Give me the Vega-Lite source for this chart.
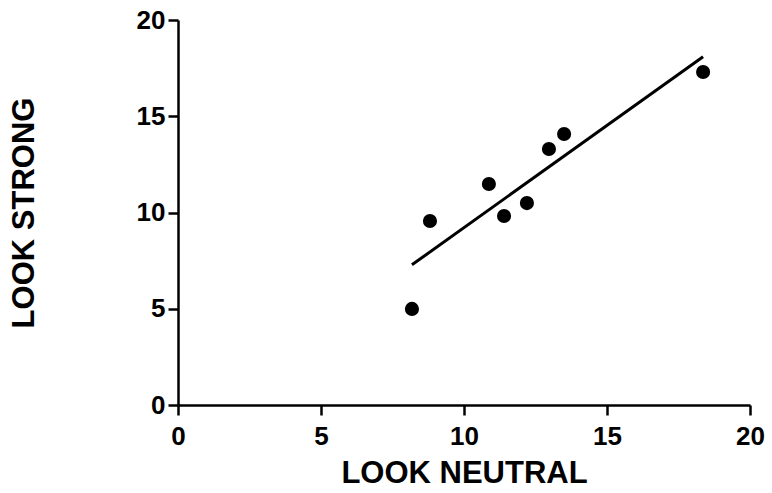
{
  "$schema": "https://vega.github.io/schema/vega-lite/v6.json",
  "width": 572,
  "height": 385,
  "autosize": "none",
  "padding": {"left": 178, "top": 20, "right": 22, "bottom": 88},
  "config": {
    "view": {"stroke": null},
    "font": "Liberation Sans",
    "axis": {
      "grid": false,
      "domainColor": "black",
      "domainWidth": 2.5,
      "tickColor": "black",
      "tickWidth": 2.5,
      "tickSize": 10,
      "labelFont": "Liberation Sans",
      "labelFontSize": 26,
      "labelFontWeight": "bold",
      "labelColor": "black",
      "titleFont": "Liberation Sans",
      "titleFontSize": 31,
      "titleFontWeight": "bold",
      "titleColor": "black"
    }
  },
  "data": {
    "values": [
      {"neutral": 8.18, "strong": 4.99},
      {"neutral": 8.81, "strong": 9.56},
      {"neutral": 10.87, "strong": 11.48},
      {"neutral": 11.40, "strong": 9.82},
      {"neutral": 12.20, "strong": 10.49},
      {"neutral": 12.97, "strong": 13.30},
      {"neutral": 13.50, "strong": 14.08},
      {"neutral": 18.36, "strong": 17.30}
    ]
  },
  "encoding": {
    "x": {
      "field": "neutral",
      "type": "quantitative",
      "scale": {"domain": [0, 20], "nice": false, "zero": false},
      "axis": {"title": "LOOK NEUTRAL", "values": [0, 5, 10, 15, 20], "labelPadding": 8, "titlePadding": 9, "labelFlush": false}
    },
    "y": {
      "field": "strong",
      "type": "quantitative",
      "scale": {"domain": [0, 20], "nice": false, "zero": false},
      "axis": {"title": "LOOK STRONG", "values": [0, 5, 10, 15, 20], "labelPadding": 3, "titlePadding": 96, "labelFlush": false}
    }
  },
  "layer": [
    {
      "mark": {"type": "circle", "size": 200, "color": "black", "opacity": 1}
    },
    {
      "transform": [{"regression": "strong", "on": "neutral"}],
      "mark": {"type": "line", "color": "black", "strokeWidth": 3}
    }
  ]
}
